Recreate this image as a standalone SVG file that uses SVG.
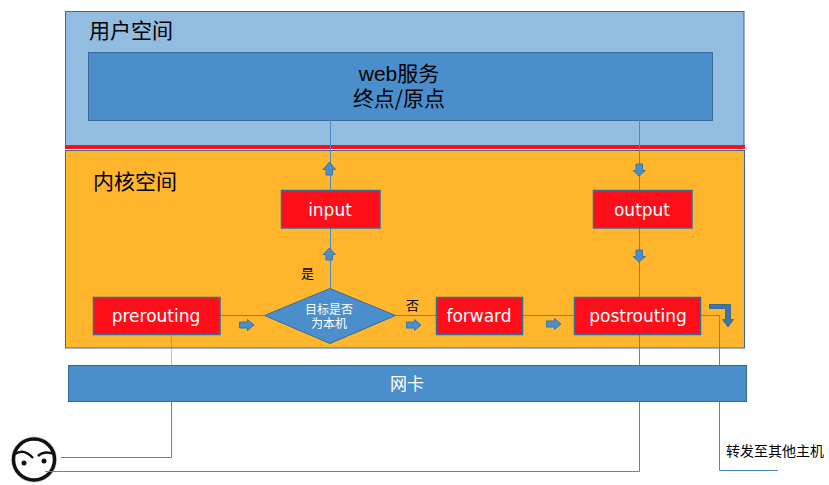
<svg xmlns="http://www.w3.org/2000/svg" width="829" height="485" viewBox="0 0 829 485">
<style>
.zh{font-family:"Noto Sans CJK SC","Liberation Sans",sans-serif}
.en{font-family:"Liberation Sans",sans-serif}
.box{fill:#4a8fcb;stroke:#3a6a98;stroke-width:1}
.red{fill:#ff0e1a;stroke:#3a6a98;stroke-width:1.5}
.redt{fill:#fff;font-family:"DejaVu Sans",sans-serif;font-size:17px;text-anchor:middle}
.wire{fill:none;stroke:#4a8ac6;stroke-width:1}
.mini{fill:#4a8fcb;stroke:#3f74a6;stroke-width:1}
</style>
<rect width="829" height="485" fill="#fff"/>
<g id="user-space">
<rect x="65.500" y="11.500" width="678.500" height="134" fill="#92bce0" stroke="#3a6a98"/>
<text class="zh" x="89" y="37.500" font-size="21" fill="#000">用户空间</text>
</g>
<g id="kernel-space">
<rect x="65.500" y="150.500" width="679" height="197.500" fill="#ffb62c" stroke="#3a6a98"/>
<text class="zh" x="93" y="189" font-size="21" fill="#000">内核空间</text>
</g>
<g id="web-service">
<rect class="box" x="88.500" y="52.500" width="624" height="68"/>
<text class="zh" font-size="21" text-anchor="middle" fill="#000"><tspan x="399" y="81"><tspan class="en">web</tspan>服务</tspan><tspan x="399" y="106">终点/原点</tspan></text>
</g>
<g id="divider"><rect x="65" y="145" width="680" height="4" fill="#ff0e1a"/></g>
<g id="connectors">
<path class="wire" d="M330.500 120V190M330.500 228V288M639.500 120V190M639.500 228V297M639.500 334V471.500H45"/>
<path class="wire" d="M171.500 365V457.500H61M220 315.500H264M395 315.500H436M522 315.500H574M701 315.500H719.500V470.500H778"/>
<path class="wire" d="M171.500 334V365" stroke-opacity=".5" stroke-width="1.500"/>
</g>
<g id="flow-arrows">
<path class="mini" d="M329.500 162L335.500 169.500H332.500V175H326V169.500H323Z"/>
<path class="mini" d="M329.500 248L335.500 254.500H332.500V260H326V254.500H323Z"/>
<path class="mini" d="M639 176L633 170.500H636V164H642.500V170.500H645.500Z"/>
<path class="mini" d="M639 262L633 256.500H636V250H642.500V256.500H645.500Z"/>
<path class="mini" d="M254 325L247.500 319.500V322H239.500V328H247.500V330.500Z"/>
<path class="mini" d="M421 325L414.500 319.500V322H406.500V328H414.500V330.500Z"/>
<path class="mini" d="M561 324L554.500 318.500V321H546.500V327H554.500V329.500Z"/>
<path d="M709.500 304.500H730.500V319.500H733.500L728 327L722.500 319.500H725.500V308.500H709.500Z" fill="#3f74a6" stroke="#3a6a98"/>
</g>
<g id="prerouting"><rect class="red" x="93.500" y="297.500" width="126.500" height="37"/><text class="redt" x="156" y="322">prerouting</text></g>
<g id="input"><rect class="red" x="281.500" y="190.500" width="98.500" height="37.500"/><text class="redt" x="330" y="215.500">input</text></g>
<g id="output"><rect class="red" x="593.500" y="190.500" width="98.500" height="37.500"/><text class="redt" x="642" y="215.500">output</text></g>
<g id="forward"><rect class="red" x="436.500" y="297.500" width="86" height="37"/><text class="redt" x="479" y="322">forward</text></g>
<g id="postrouting"><rect class="red" x="574.500" y="297.500" width="126" height="37"/><text class="redt" x="638" y="322">postrouting</text></g>
<g id="decision">
<path d="M264.500 315.500L330 288.500L395.500 315.500L330 343.500Z" fill="#4a8fcb" stroke="#3a6a98"/>
<text class="zh" font-size="12" text-anchor="middle" fill="#fff"><tspan x="329" y="314">目标是否</tspan><tspan x="329" y="327.500">为本机</tspan></text>
</g>
<g id="branch-labels">
<text class="zh" x="301" y="278" font-size="13" fill="#000">是</text>
<text class="zh" x="406" y="310" font-size="13" fill="#000">否</text>
</g>
<g id="nic">
<rect class="box" x="68.500" y="365.500" width="678" height="36"/>
<text class="zh" x="407" y="389.500" font-size="17" text-anchor="middle" fill="#fff">网卡</text>
</g>
<g id="client">
<circle cx="34" cy="459.500" r="22" fill="none" stroke="#999" stroke-width="2" stroke-opacity=".5"/>
<circle cx="34" cy="459.500" r="20.500" fill="#fff" stroke="#111" stroke-width="3.500"/>
<path d="M15 454Q24 448 33 458M38 456Q44 450 55 454" fill="none" stroke="#111" stroke-width="2.500"/>
<circle cx="24" cy="463" r="2.500" fill="#111"/>
<circle cx="44" cy="461" r="2.500" fill="#111"/>
<path d="M45 471.500H60" stroke="#4a8ac6" fill="none"/>
</g>
<g id="forward-note">
<text class="zh" x="726" y="456" font-size="14" fill="#000">转发至其他主机</text>
</g>
</svg>
